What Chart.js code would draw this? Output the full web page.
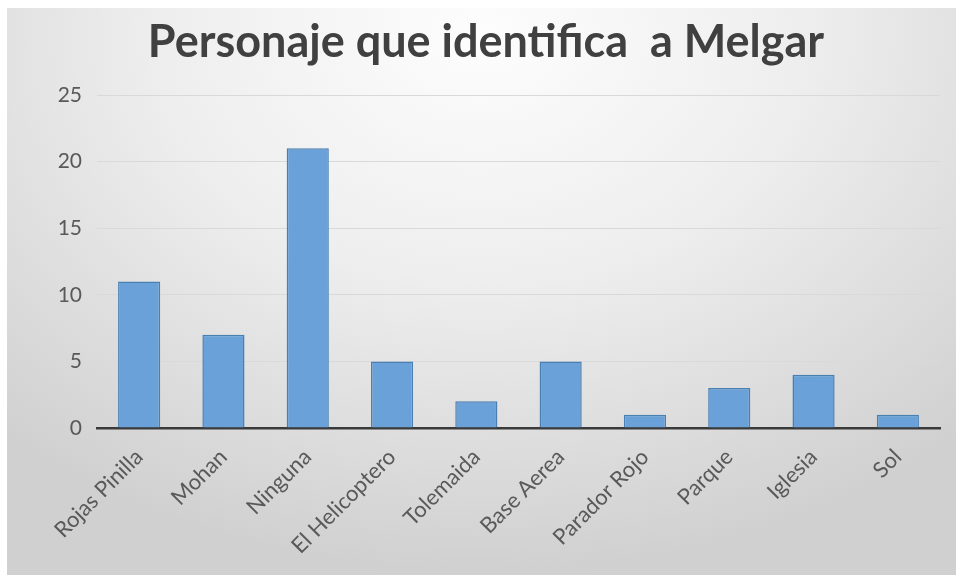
<!DOCTYPE html>
<html lang="es">
<head>
	<meta charset="UTF-8">
	<title>Personaje que identifica a Melgar</title>
	<script src="https://cdn.jsdelivr.net/npm/chart.js"></script>
	<style>
		body {
			margin: 0;
			padding: 0;
			background: #ffffff;
		}
		.panel {
			position: absolute;
			left: 7px;
			top: 8px;
			width: 949px;
			height: 567px;
			background: radial-gradient(ellipse 75% 95% at 50% 5%, #fdfdfd 0%, #eeeeee 45%, #d0d0d0 100%);
		}
		.chart-wrapper {
			position: absolute;
			left: 0;
			top: 0;
			width: 956px;
			height: 580px;
		}
	</style>
</head>
<body>
	<div class="panel"></div>
	<div class="chart-wrapper">
		<canvas id="barChart"></canvas>
	</div>

	<script>
		const titulo = 'Personaje que identifica  a Melgar';
		const categorias = ['Rojas Pinilla', 'Mohan', 'Ninguna', 'El Helicoptero', 'Tolemaida', 'Base Aerea', 'Parador Rojo', 'Parque', 'Iglesia', 'Sol'];
		const valores = [11, 7, 21, 5, 2, 5, 1, 3, 4, 1];
		const yMax = 25;
		const yPaso = 5;

		new Chart(document.getElementById('barChart').getContext('2d'), {
			type: 'bar',
			data: {
				labels: categorias,
				datasets: [{
					label: titulo,
					data: valores,
					backgroundColor: '#69a1d8',
					borderColor: '#4a7fb3',
					borderWidth: 1.5,
					barPercentage: 0.5,
					categoryPercentage: 1
				}]
			},
			options: {
				responsive: true,
				maintainAspectRatio: false,
				animation: false,
				// left/right padding keeps the title centred where the original sits
				layout: { padding: { left: 32, right: 16, top: 0, bottom: 0 } },
				plugins: {
					legend: { display: false },
					tooltip: { enabled: false },
					title: {
						display: true,
						text: titulo,
						color: '#404040',
						font: { family: 'Lato', size: 45, weight: 'bold' },
						padding: { top: 15, bottom: 26 }
					}
				},
				scales: {
					x: {
						grid: { display: false, drawTicks: false },
						border: { display: true, color: '#3a3a3a', width: 2.5 },
						ticks: {
							color: '#595959',
							font: { family: 'Lato', size: 22 },
							minRotation: 45,
							maxRotation: 45,
							padding: 16
						},
						afterFit: scale => { scale.height = 152; }
					},
					y: {
						min: 0,
						max: yMax,
						ticks: {
							stepSize: yPaso,
							color: '#595959',
							font: { family: 'Lato', size: 21 },
							padding: 15
						},
						grid: { color: '#d9d9d9', lineWidth: 1, drawTicks: false },
						border: { display: false },
						afterFit: scale => { scale.width = 65; }
					}
				}
			}
		});
	</script>
</body>
</html>
